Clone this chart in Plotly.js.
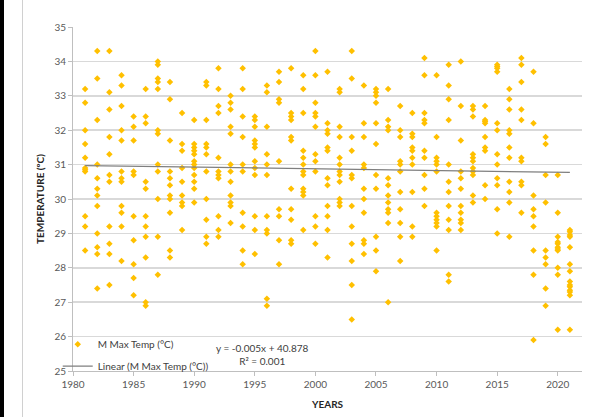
<!DOCTYPE html>
<html>
<head>
<meta charset="utf-8">
<script src="https://cdn.plot.ly/plotly-3.0.1.min.js"></script>
<style>
  html, body { margin: 0; padding: 0; background: #ffffff; }
  #wrap { position: relative; width: 598px; height: 417px; overflow: hidden; }
  #chart { width: 598px; height: 417px; }
  /* page frame around the chart */
  .edge-dark { position: absolute; z-index: 10; left: 0; top: 0; width: 4px; height: 417px; background: #000000; }
  .edge-light { position: absolute; z-index: 10; left: 22px; top: 0; width: 1px; height: 417px; background: #d0d0d0; }
</style>
</head>
<body>
<div id="wrap">
  <div id="chart"></div>
  <div class="edge-dark"></div>
  <div class="edge-light"></div>
</div>
<script>
// Monthly maximum temperature readings, grouped by year
const years = [1981, 1982, 1983, 1984, 1985, 1986, 1987, 1988, 1989, 1990,
               1991, 1992, 1993, 1994, 1995, 1996, 1997, 1998, 1999, 2000,
               2001, 2002, 2003, 2004, 2005, 2006, 2007, 2008, 2009, 2010,
               2011, 2012, 2013, 2014, 2015, 2016, 2017, 2018, 2019, 2020, 2021];

const monthlyMaxTemp = [
  [33.2, 32.8, 32.0, 31.6, 31.2, 30.9, 30.85, 30.8, 29.5, 29.2, 28.5],          // 1981
  [34.3, 33.5, 32.3, 31.0, 30.6, 30.3, 30.1, 29.8, 29.0, 28.6, 28.4, 27.4],     // 1982
  [34.3, 33.1, 32.6, 31.8, 31.3, 30.7, 30.5, 29.2, 28.7, 28.4, 27.5],           // 1983
  [33.6, 33.3, 32.7, 32.0, 31.7, 30.8, 30.6, 30.5, 29.8, 29.6, 29.2, 28.2],     // 1984
  [32.4, 32.1, 31.7, 30.8, 30.7, 29.5, 28.8, 28.1, 27.7, 27.2],                 // 1985
  [33.2, 32.4, 32.2, 30.5, 30.3, 29.5, 29.2, 28.9, 28.3, 27.0, 26.9],           // 1986
  [34.0, 33.9, 33.5, 33.4, 33.2, 32.0, 31.9, 31.0, 30.8, 30.0, 28.9, 27.8],     // 1987
  [33.4, 32.9, 31.7, 30.8, 30.6, 30.4, 30.1, 30.0, 29.6, 28.5, 28.3],           // 1988
  [32.5, 31.6, 31.4, 30.9, 30.5, 30.1, 29.9, 29.8, 29.1],                       // 1989
  [32.3, 31.6, 31.5, 31.4, 31.3, 31.1, 31.0, 30.9, 30.7, 30.5, 30.3, 29.9],     // 1990
  [33.4, 33.3, 32.3, 31.6, 31.5, 31.3, 30.8, 30.0, 29.4, 28.9, 28.7],           // 1991
  [33.8, 33.2, 32.7, 32.5, 31.2, 30.8, 30.7, 30.6, 29.5, 29.1, 28.9],           // 1992
  [33.0, 32.8, 32.6, 32.1, 31.9, 31.0, 30.8, 30.5, 30.1, 29.9, 29.8, 29.3],     // 1993
  [33.8, 33.2, 32.4, 31.8, 31.0, 30.8, 29.6, 29.2, 28.5, 28.1],                 // 1994
  [32.4, 32.3, 32.1, 31.7, 31.6, 31.5, 31.1, 30.9, 30.7, 29.5, 29.1, 28.4],     // 1995
  [33.3, 33.1, 32.1, 31.3, 31.0, 30.7, 29.5, 29.1, 29.0, 27.1, 26.9],           // 1996
  [33.7, 33.4, 32.9, 32.8, 31.1, 29.7, 29.5, 28.8, 28.1],                       // 1997
  [33.8, 32.5, 32.4, 32.3, 31.8, 31.7, 30.3, 29.7, 29.4, 28.8, 28.7],           // 1998
  [33.6, 33.2, 32.5, 31.4, 31.2, 31.0, 30.8, 30.7, 30.3, 30.2, 30.1, 29.1],     // 1999
  [34.3, 33.6, 32.8, 32.5, 32.4, 32.1, 31.3, 31.1, 30.8, 29.5, 29.2, 28.7],     // 2000
  [33.7, 32.2, 32.0, 31.9, 31.5, 31.4, 30.6, 30.4, 29.8, 29.5, 29.1, 28.3],     // 2001
  [33.2, 33.1, 32.1, 31.8, 31.2, 31.0, 30.8, 30.7, 30.5, 30.0, 29.9, 29.8],     // 2002
  [34.3, 33.5, 31.8, 31.4, 30.7, 30.6, 29.8, 29.2, 28.7, 28.2, 27.5, 26.5],     // 2003
  [33.3, 32.2, 31.8, 31.0, 30.9, 30.3, 30.0, 29.6, 28.8, 28.7, 28.4],           // 2004
  [33.2, 33.1, 33.0, 32.8, 32.2, 31.6, 30.7, 30.3, 28.9, 28.5, 27.9],           // 2005
  [33.2, 32.3, 32.1, 32.0, 30.6, 30.4, 30.1, 29.9, 29.7, 29.6, 29.3, 27.0],     // 2006
  [32.7, 32.0, 31.8, 31.1, 31.0, 30.8, 30.2, 29.7, 29.3, 28.9, 28.2],           // 2007
  [32.5, 31.9, 31.8, 31.5, 31.4, 31.2, 31.0, 30.2, 29.2, 28.9],                 // 2008
  [34.1, 33.6, 32.5, 32.3, 32.2, 31.4, 31.2, 30.7, 30.3, 29.8],                 // 2009
  [33.6, 31.8, 31.2, 31.1, 31.0, 30.8, 29.6, 29.5, 29.4, 29.3, 29.2, 28.5],     // 2010
  [33.9, 33.3, 32.9, 32.3, 31.0, 30.5, 30.2, 29.8, 29.4, 29.1, 27.8, 27.6],     // 2011
  [34.0, 32.7, 31.7, 30.8, 30.6, 30.3, 29.8, 29.6, 29.4, 29.3, 29.1],           // 2012
  [32.7, 32.6, 32.4, 31.3, 31.2, 31.1, 30.9, 30.8, 30.7, 30.1, 29.9],           // 2013
  [32.7, 32.3, 32.25, 32.2, 31.8, 31.5, 31.4, 30.4, 30.0],                      // 2014
  [33.9, 33.85, 33.8, 33.7, 32.2, 32.0, 31.3, 31.0, 30.6, 30.4, 29.7, 29.0],    // 2015
  [33.2, 32.9, 32.6, 32.0, 31.9, 31.5, 31.2, 30.5, 30.2, 29.9, 28.9],           // 2016
  [34.1, 33.9, 33.4, 32.6, 32.3, 31.2, 31.1, 30.5, 30.4, 29.6],                 // 2017
  [33.7, 32.2, 30.1, 29.7, 29.5, 29.2, 28.5, 27.8, 25.9],                       // 2018
  [31.8, 31.6, 30.7, 29.9, 28.5, 28.3, 28.1, 27.4, 26.9],                       // 2019
  [30.7, 29.6, 28.9, 28.75, 28.7, 28.6, 28.55, 28.5, 28.0, 27.8, 26.2],         // 2020
  [29.1, 29.05, 28.95, 28.9, 28.6, 28.1, 27.9, 27.6, 27.5, 27.45, 27.35, 27.3, 27.2, 26.2] // 2021
];

// Linear trend fitted to the series
const trendSlope = -0.005;
const trendIntercept = 40.878;
const trendYears = [1981, 2021];

const seriesName = 'M Max Temp (°C)';
const trendName = 'Linear (M Max Temp (°C))';

// Flatten per-year readings into scatter coordinates
const xs = [], ys = [];
years.forEach((yr, i) => {
  monthlyMaxTemp[i].forEach(v => { xs.push(yr); ys.push(v); });
});
const trendY = trendYears.map(x => trendSlope * x + trendIntercept);

const FONT = 'Lato, "Liberation Sans", Arial, sans-serif';

const traces = [
  {
    type: 'scatter', mode: 'markers', name: seriesName,
    x: xs, y: ys,
    marker: { symbol: 'diamond', size: 5, color: '#FFC000', line: { width: 0 } },
    legendgroup: 'a', hoverinfo: 'x+y'
  },
  {
    type: 'scatter', mode: 'lines', name: trendName,
    x: trendYears, y: trendY,
    line: { color: '#7f7f7f', width: 1.2 },
    legendgroup: 'b'
  }
];

const layout = {
  width: 598, height: 417,
  paper_bgcolor: '#ffffff', plot_bgcolor: '#ffffff',
  margin: { l: 73, r: 16, t: 27, b: 46 },
  font: { family: FONT, size: 10, color: '#595959' },
  showlegend: true,
  legend: {
    x: -0.03, y: 0.12, xanchor: 'left', yanchor: 'top',
    bgcolor: 'rgba(0,0,0,0)', font: { family: FONT, size: 10, color: '#404040' },
    itemwidth: 30, tracegroupgap: 3
  },
  xaxis: {
    range: [1980, 2022], tick0: 1980, dtick: 5,
    showgrid: false, zeroline: false,
    showline: true, linecolor: '#bfbfbf', linewidth: 1,
    ticks: 'outside', ticklen: 4, tickcolor: '#bfbfbf',
    tickfont: { family: FONT, size: 10, color: '#595959' },
    title: { text: 'YEARS', standoff: 11, font: { family: FONT, size: 10, color: '#262626', weight: 'bold' } }
  },
  yaxis: {
    range: [25, 35], tick0: 25, dtick: 1,
    showgrid: true, gridcolor: '#d9d9d9', gridwidth: 1.5, zeroline: false,
    showline: true, linecolor: '#bfbfbf', linewidth: 1,
    ticks: 'outside', ticklen: 4, tickcolor: '#bfbfbf',
    tickfont: { family: FONT, size: 10, color: '#595959' },
    title: { text: 'TEMPERATURE (ºC)', standoff: 7, font: { family: FONT, size: 10, color: '#262626', weight: 'bold' } }
  },
  annotations: [
    {
      xref: 'paper', yref: 'paper', x: 0.373, y: 0.048, yanchor: 'middle', xanchor: 'center',
      text: 'y = -0.005x + 40.878<br>R² = 0.001',
      showarrow: false, align: 'center',
      font: { family: FONT, size: 10, color: '#404040' }
    }
  ]
};

Plotly.newPlot('chart', traces, layout, { displayModeBar: false, staticPlot: true });
</script>
</body>
</html>
